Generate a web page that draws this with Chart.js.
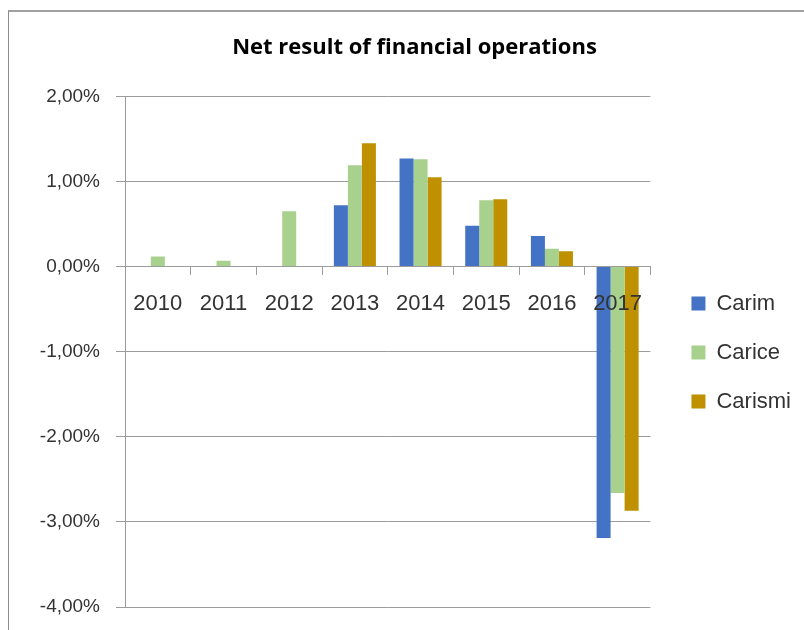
<!DOCTYPE html>
<html>
<head>
<meta charset="utf-8">
<script src="https://cdn.jsdelivr.net/npm/chart.js@4.4.1/dist/chart.umd.min.js"></script>
<style>
  html, body { margin: 0; padding: 0; background: #fff; }
  #wrap { position: relative; width: 804px; height: 630px; overflow: hidden; }
  #frame { position: absolute; left: 8px; top: 10px; width: 820px; height: 640px; border-top: 2px solid #a0a0a0; border-left: 1px solid #8c8c8c; box-sizing: border-box; }
  #c { position: absolute; left: 0; top: 0; }
</style>
</head>
<body>
<div id="wrap">
  <div id="frame"></div>
  <canvas id="c" width="804" height="630"></canvas>
</div>
<script>
/* Net result of financial operations – grouped bars, Excel look */
const years = ['2010', '2011', '2012', '2013', '2014', '2015', '2016', '2017'];
const carim = [null, null, null, 0.72, 1.27, 0.48, 0.36, -3.19];
const carice = [0.12, 0.07, 0.65, 1.19, 1.26, 0.78, 0.21, -2.66];
const carismi = [null, null, null, 1.45, 1.05, 0.79, 0.18, -2.87];
const yMin = -4, yMax = 2, yStep = 1;

const gridC = '#9c9c9c';
const txtC = '#333333';
const fam = '"Liberation Sans", Arial, sans-serif';

const fmtPct = v => v.toFixed(2).replace('.', ',') + '%';

// nudge title and legend to where Excel put them
const nudge = {
    id: 'nudge',
    afterLayout(chart) {
        const lg = chart.legend;
        if (lg) {
            lg.left += 14; lg.right += 14;
            lg.top += 49; lg.bottom += 49;
        }
        const t = chart.titleBlock;
        if (t) { t.left += 21; t.right += 21; }
    }
};

new Chart(document.getElementById('c'), {
    type: 'bar',
    data: {
        labels: years,
        datasets: [
            { label: 'Carim', data: carim, backgroundColor: '#4472C4' },
            { label: 'Carice', data: carice, backgroundColor: '#A9D18E' },
            { label: 'Carismi', data: carismi, backgroundColor: '#BF9000' },
        ]
    },
    options: {
        responsive: false,
        animation: false,
        layout: { padding: { top: 0, bottom: 23, left: 0, right: 17 } },
        datasets: { bar: { categoryPercentage: 0.64, barPercentage: 1.0 } },
        plugins: {
            title: {
                display: true,
                text: 'Net result of financial operations',
                color: '#000',
                font: { family: '"Open Sans", ' + fam, size: 22, weight: 'bold', lineHeight: 1.2 },
                padding: { top: 35, bottom: 35 }
            },
            legend: {
                position: 'right',
                labels: {
                    color: txtC,
                    font: { family: fam, size: 22 },
                    boxWidth: 14,
                    boxHeight: 14,
                    padding: 27
                }
            },
            tooltip: { enabled: false }
        },
        scales: {
            x: {
                position: { y: 0 },
                afterFit: s => { s.paddingTop = 0; s.paddingBottom = 0; },
                grid: { display: true, drawOnChartArea: false, drawTicks: true, tickLength: 8, color: gridC, offset: true },
                border: { display: true, color: gridC },
                ticks: { z: 1, color: txtC, font: { family: fam, size: 22 }, padding: 16, maxRotation: 0 }
            },
            y: {
                min: yMin,
                max: yMax,
                afterFit: s => { s.width = 125; s.paddingBottom = 0; },
                grid: { color: gridC, tickLength: 9 },
                border: { display: true, color: gridC },
                ticks: {
                    stepSize: yStep,
                    color: txtC,
                    font: { family: fam, size: 19 },
                    padding: 16,
                    callback: v => fmtPct(v)
                }
            }
        }
    },
    plugins: [nudge]
});
</script>
</body>
</html>
